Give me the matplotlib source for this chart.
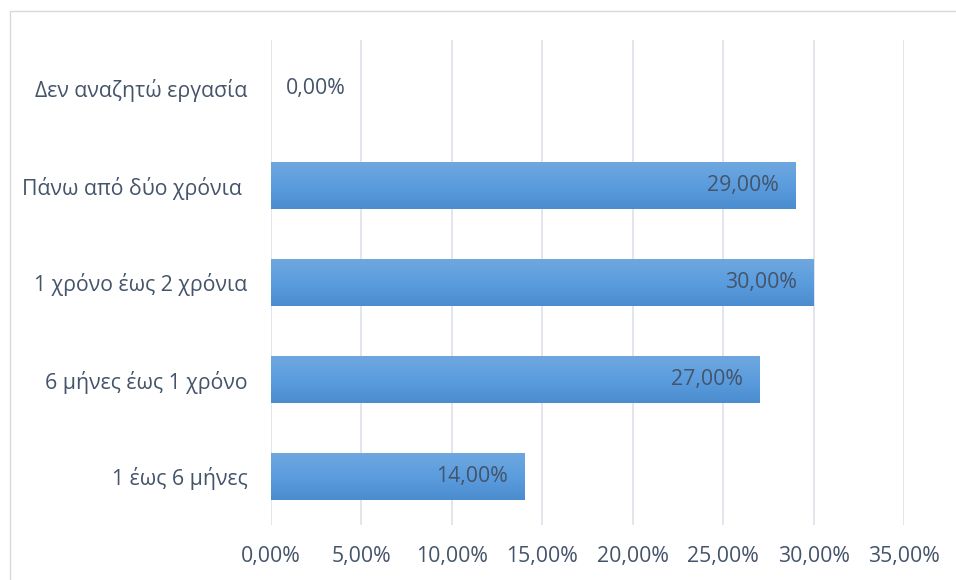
import matplotlib
matplotlib.use("Agg")
import matplotlib.pyplot as plt
import numpy as np
from matplotlib.patches import Rectangle
from matplotlib.colors import LinearSegmentedColormap

categories = ["1 έως 6 μήνες", "6 μήνες έως 1 χρόνο", "1 χρόνο έως 2 χρόνια",
              "Πάνω από δύο χρόνια ", "Δεν αναζητώ εργασία"]
values = [14.0, 27.0, 30.0, 29.0, 0.0]
xticks = [0, 5, 10, 15, 20, 25, 30, 35]

plt.rcParams['font.family'] = ['Open Sans', 'DejaVu Sans']
txt_color = '#44546a'
fs = 15.3

fig = plt.figure(figsize=(9.56, 5.8), dpi=100)
W, H = 956, 580
# outer chart border
fig.patches.append(Rectangle((9.5 / W, -0.01), 1.2, (H - 10.5) / H + 0.01,
                             transform=fig.transFigure, fill=False,
                             edgecolor='#d9d9d9', linewidth=1.0))
ax = fig.add_axes([271 / W, 1 - 525 / H, (904 - 271) / W, (525 - 40) / H])

ypos = np.arange(len(categories))
bh = 0.485
cmap = LinearSegmentedColormap.from_list('g', ['#4a8ccd', '#5b9ddf', '#70a8de'])
grad = np.linspace(0, 1, 256).reshape(-1, 1)
for y, v in zip(ypos, values):
    if v > 0:
        bars = ax.barh(y, v, height=bh, color='none', edgecolor='none', zorder=2)
        im = ax.imshow(grad, aspect='auto', cmap=cmap, origin='lower',
                       extent=[0, v, y - bh / 2, y + bh / 2], zorder=2)
        im.set_clip_path(bars[0])
        ax.text(v - 0.9, y, f"{v:.2f}".replace('.', ',') + "%", ha='right', va='center',
                fontsize=fs, color=txt_color, zorder=3)
    else:
        ax.text(0.85, y, f"{v:.2f}".replace('.', ',') + "%", ha='left', va='center',
                fontsize=fs, color=txt_color, zorder=3)

ax.set_xlim(0, 35)
ax.set_ylim(-0.5, len(categories) - 0.5)
ax.set_xticks(xticks)
ax.set_xticklabels([f"{t:.2f}".replace('.', ',') + "%" for t in xticks])
ax.set_yticks(ypos)
ax.set_yticklabels(categories)
ax.tick_params(axis='both', length=0, labelsize=fs, colors=txt_color)
ax.tick_params(axis='x', pad=15)
ax.tick_params(axis='y', pad=17)
ax.grid(axis='x', color='#dfe3ea', linewidth=1.3, zorder=0)
ax.set_axisbelow(True)
for s in ax.spines.values():
    s.set_visible(False)

fig.savefig("out.png", dpi=100)
